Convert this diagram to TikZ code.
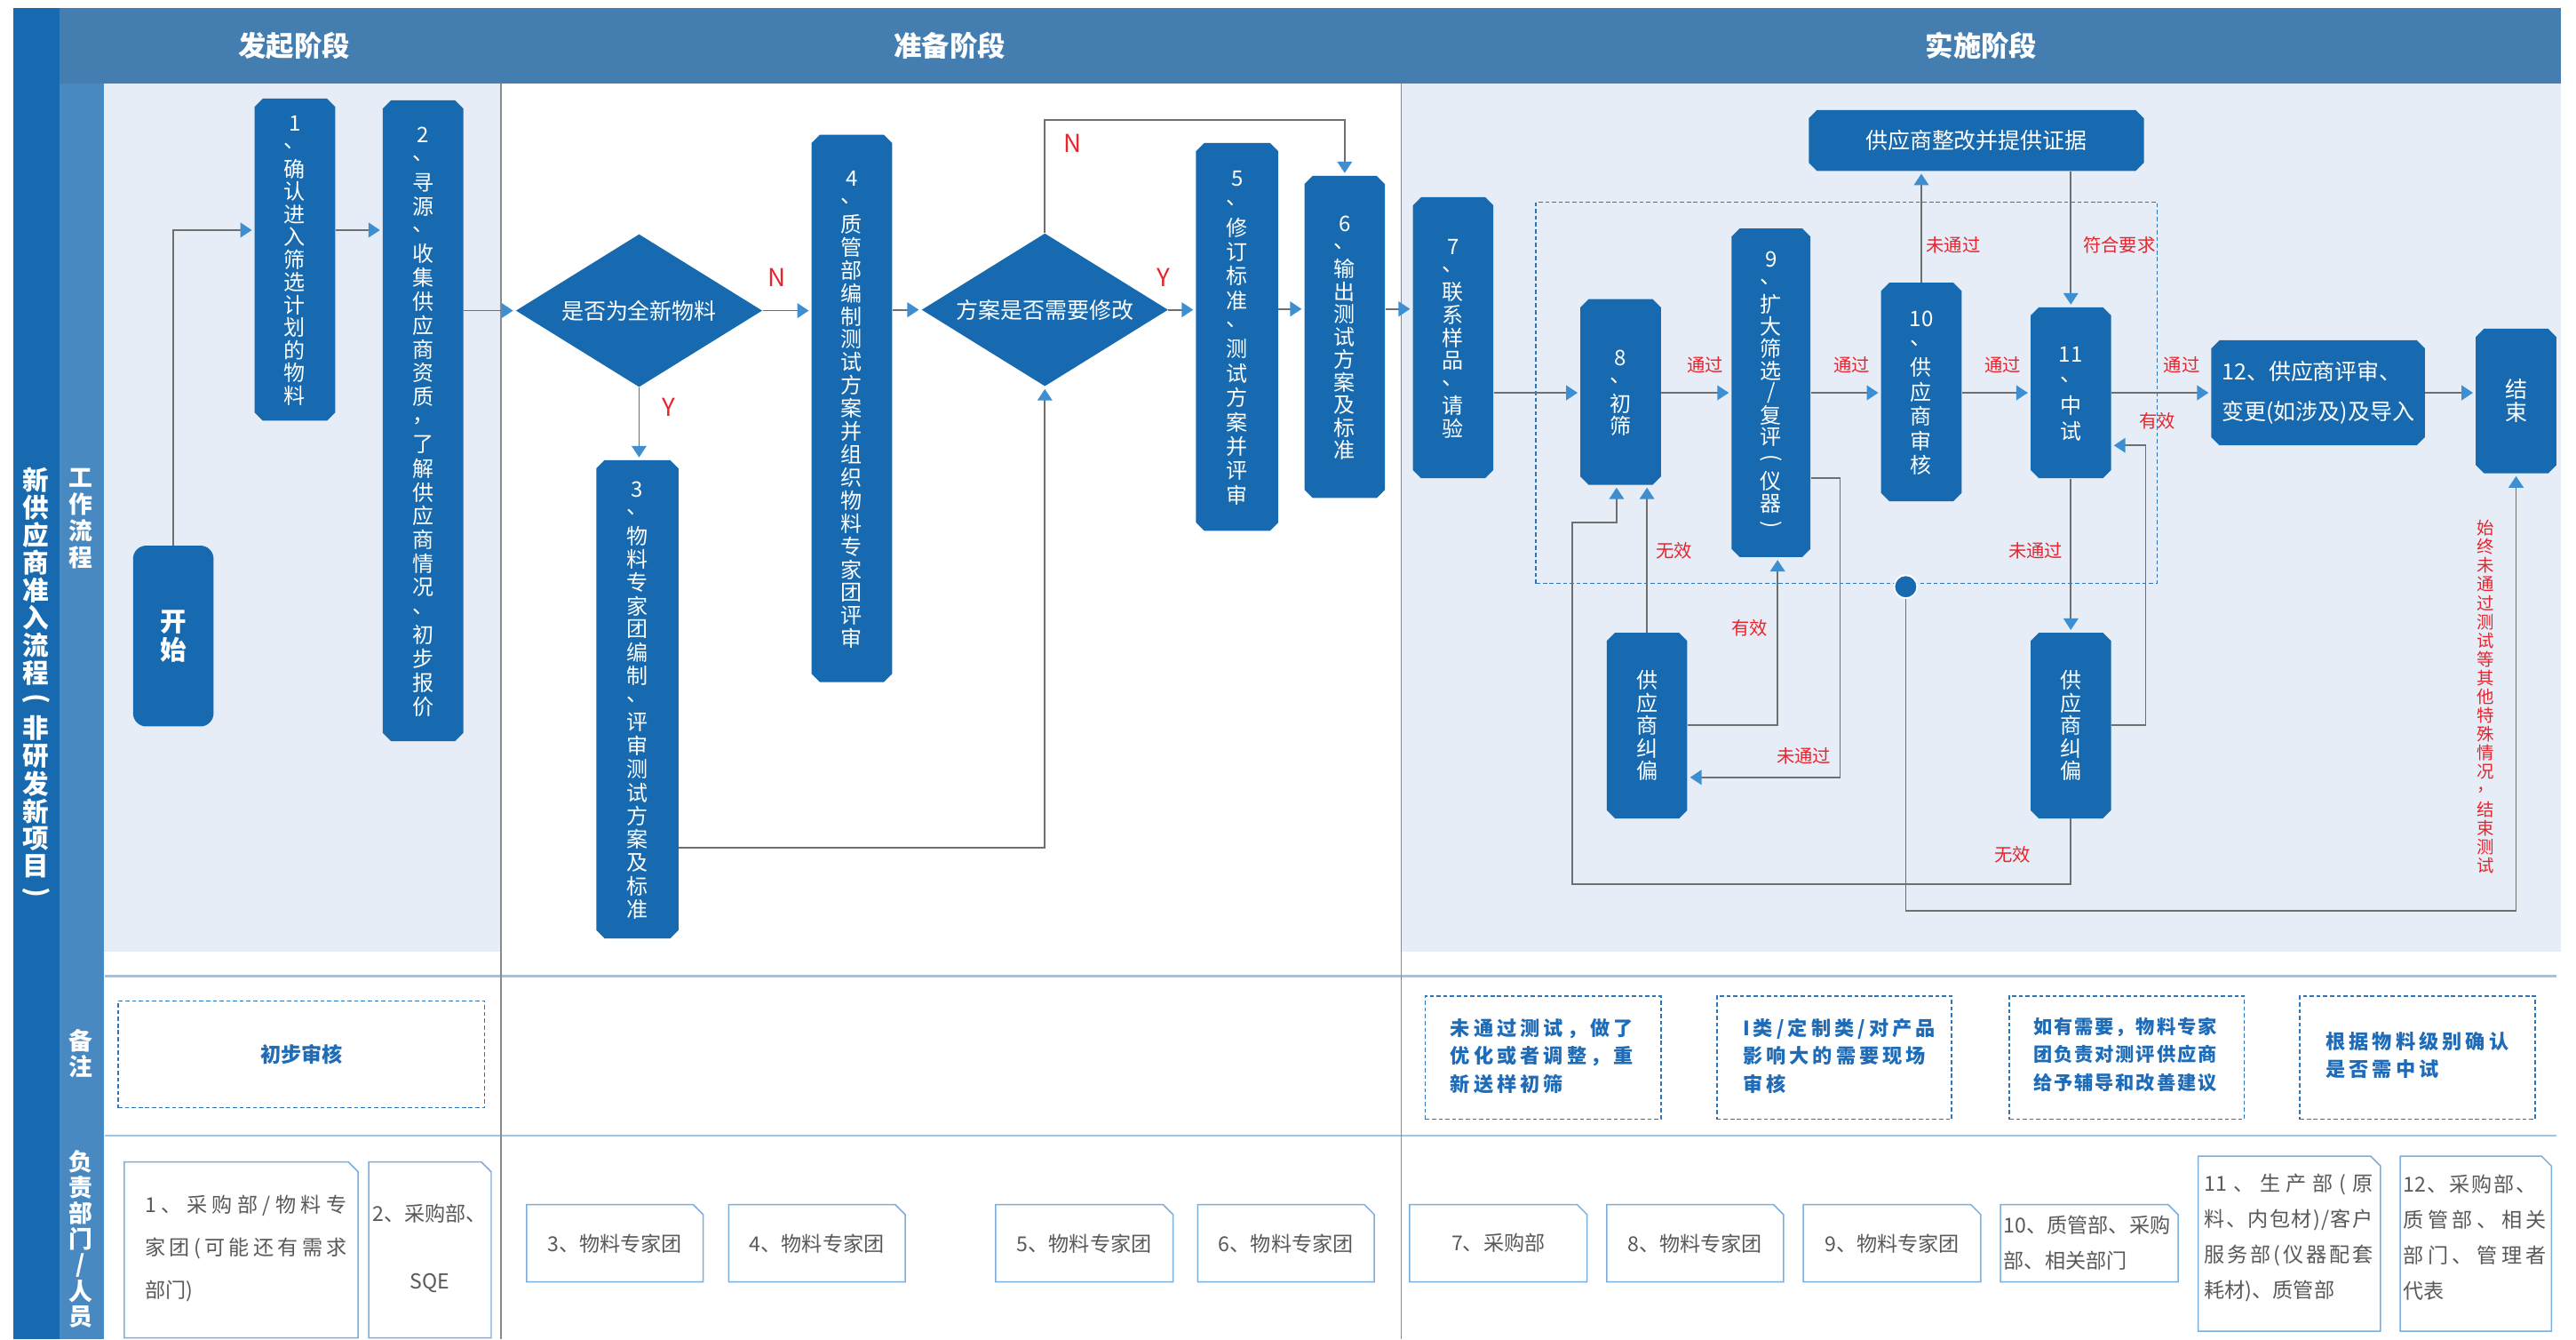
\documentclass[tikz,border=0pt]{standalone}
\usepackage{fontspec}
\usepackage{graphicx}
\setmainfont{Noto Sans CJK SC}
\usetikzlibrary{arrows.meta,shapes.geometric,fit}
\definecolor{nblue}{HTML}{176AAF}
\definecolor{hdr}{HTML}{447EB0}
\definecolor{lcol}{HTML}{4889C2}
\definecolor{lbg}{HTML}{E6EDF6}
\definecolor{tipb}{HTML}{3D8FD1}
\definecolor{lgray}{HTML}{6F6F6F}
\definecolor{dgray}{HTML}{8A8A8A}
\definecolor{lred}{HTML}{E8252E}
\definecolor{rowline}{HTML}{9DC3E6}
\definecolor{dblue}{HTML}{2E75B6}
\definecolor{tblue}{HTML}{1E6BB8}
\definecolor{rgray}{HTML}{595959}
\definecolor{rborder}{HTML}{7AAEDD}
\newcommand\vpl{\rotatebox[origin=c]{-90}{(}}
\newcommand\vpr{\rotatebox[origin=c]{-90}{)}}
\makeatletter
\newcommand\vstk[2][14.2pt]{\vbox{\offinterlineskip\@tfor\vs@c:=#2\do{\vbox to #1{\vss\hbox to 1.6em{\hss\vs@c\hss}\vss}}}}
\newcommand\sprd[2]{\hbox to #1{\@tfor\sp@c:=#2\do{\sp@c\hfil}\unskip}}
\newcommand\lsp[2]{\hbox{\@tfor\lp@c:=#2\do{\lp@c\kern#1}\unkern}}
\makeatother
\newcommand\cham[5]{\fill[nblue] (#1+#5,#2) -- (#3-#5,#2) -- (#3,#2+#5) -- (#3,#4-#5) -- (#3-#5,#4) -- (#1+#5,#4) -- (#1,#4-#5) -- (#1,#2+#5) -- cycle;}
\newcommand\proc[7][\fontsize{13}{14}\selectfont]{\cham{#3}{#4}{#5}{#6}{5}\node[fit={(#3,#4) (#5,#6)},inner sep=0pt] (#2) {};\node[text=white,inner sep=0pt,font=#1,align=left] (#2t) at (#2.center) {#7};}
\newcommand\rbox[5]{\fill[white] (#2,#3) -- (#4-6,#3) -- (#4,#3+6) -- (#4,#5) -- (#2,#5) -- cycle;\draw[rborder,line width=0.8pt] (#2,#3) -- (#4-6,#3) -- (#4,#3+6) -- (#4,#5) -- (#2,#5) -- cycle;\node[fit={(#2,#3) (#4,#5)},inner sep=0pt] (#1) {};}
\tikzset{
  arr/.style={draw=lgray,line width=1pt,-{Triangle[width=9pt,length=7pt,color=tipb]},shorten >=1.5pt},
  lab/.style={text=lred,font=\fontsize{11}{12}\selectfont,inner sep=0pt},
  yn/.style={text=lred,font=\fontsize{15}{15}\selectfont,inner sep=0pt},
  note/.style={draw=dblue,line width=0.9pt,dash pattern=on 2.5pt off 1.6pt,inner sep=0pt},
  ntxt/.style={text=tblue,font=\fontsize{12}{12}\selectfont\bfseries,inner sep=0pt},
  rtxt/.style={text=rgray,font=\fontsize{12.5}{12.5}\selectfont,inner sep=0pt},
  dia/.style={diamond,aspect=1.6,fill=nblue,inner sep=0pt,minimum width=150pt,minimum height=93pt,text=white,font=\fontsize{13.5}{14}\selectfont},
  side/.style={text=white,font=\fontsize{14.5}{15}\selectfont\bfseries,inner sep=0pt}
}
\begin{document}
\begin{tikzpicture}[x=1pt,y=-1pt]
\useasboundingbox (0,0) rectangle (1568,815);
% backgrounds
\fill[nblue] (8,5) rectangle (36,815);
\fill[hdr] (36,5) rectangle (1559,51);
\fill[lcol] (36,51) rectangle (63,815);
\fill[lbg] (63,51) rectangle (305,579);
\fill[lbg] (853,51) rectangle (1559,579);
\draw[rowline,line width=1.3pt] (64,594) -- (1556,594);
\draw[rowline,line width=1.3pt] (64,691) -- (1556,691);
\draw[dgray,line width=0.8pt] (305,51) -- (305,815);
\draw[dgray,line width=0.8pt] (853,51) -- (853,815);
% headers
\node[text=white,font=\fontsize{17}{18}\selectfont\bfseries] (h1) at (179,28) {发起阶段};
\node[text=white,font=\fontsize{17}{18}\selectfont\bfseries] (h2) at (578,28) {准备阶段};
\node[text=white,font=\fontsize{17}{18}\selectfont\bfseries] (h3) at (1206,28) {实施阶段};
\node[text=white,font=\fontsize{16}{16}\selectfont\bfseries,inner sep=0pt] (t0) at (22,418) {\vstk[16.8pt]{新供应商准入流程\vpl 非研发新项目\vpr}};
\node[side] (t1) at (49,315) {\vstk[16pt]{工作流程}};
\node[side] (t2) at (49,641) {\vstk[16pt]{备注}};
\node[side] (t3) at (49,754) {\vstk[15.8pt]{负责部门/人员}};
% group box
\node[note,fit={(935,123) (1313,355)}] (grp) {};
% process nodes
\fill[nblue,rounded corners=8pt] (81,332) rectangle (130,442);
\node[fit={(81,332) (130,442)},inner sep=0pt] (st) {};
\node[text=white,font=\fontsize{16}{16}\selectfont\bfseries,inner sep=0pt] (stt) at (st.center) {\vstk[16.6pt]{开始}};
\proc{n1}{155}{60}{204}{256}{\vstk[13.8pt]{1、确认进入筛选计划的物料}}
\proc{n2}{233}{61}{282}{451}{\vstk[14.5pt]{2、寻源、收集供应商资质，了解供应商情况、初步报价}}
\proc{n3}{363}{280}{413}{571}{\vstk{3、物料专家团编制、评审测试方案及标准}}
\proc{n4}{494}{82}{543}{415}{\vstk[14pt]{4、质管部编制测试方案并组织物料专家团评审}}
\proc{n5}{728}{87}{778}{323}{\vstk[14.8pt]{5、修订标准、测试方案并评审}}
\proc{n6}{794}{107}{843}{303}{\vstk[13.8pt]{6、输出测试方案及标准}}
\proc{n7}{860}{120}{909}{291}{\vstk[13.8pt]{7、联系样品、请验}}
\proc{n8}{962}{182}{1011}{295}{\vstk[13.8pt]{8、初筛}}
\proc{n9}{1054}{139}{1102}{339}{\vstk[13.5pt]{9、扩大筛选/复评\vpl 仪器\vpr}}
\proc{n10}{1145}{172}{1194}{305}{\vstk[14.8pt]{{10}、供应商审核}}
\proc{n11}{1236}{187}{1285}{291}{\vstk[15.5pt]{{11}、中试}}
\proc[\fontsize{13.5}{14}\selectfont]{fix}{1101}{67}{1305}{104}{供应商整改并提供证据}
\proc[\fontsize{13.5}{24}\selectfont]{n12}{1346}{207}{1476}{271}{12、供应商评审、\\变更(如涉及)及导入}
\proc[\fontsize{13.5}{14}\selectfont]{fin}{1507}{200}{1556}{288}{\vstk[14pt]{结束}}
\proc{lc}{978}{385}{1027}{498}{\vstk[13.8pt]{供应商纠偏}}
\proc{rc}{1236}{385}{1285}{498}{\vstk[13.8pt]{供应商纠偏}}
\node[dia] (d1) at (389,189) {是否为全新物料};
\node[dia] (d2) at (636,188.5) {方案是否需要修改};
\node[circle,fill=nblue,draw=white,line width=1pt,minimum size=14pt,inner sep=0pt] (dot) at (1160,357) {};
% connectors
\draw[arr] (st.north) |- (n1.west |- 0,140);
\draw[arr] (n1.east |- 0,140) -- (n2.west |- 0,140);
\draw[arr] (n2.east |- d1.west) -- (d1.west);
\draw[arr] (d1.east) -- (n4.west |- d1.east);
\draw[arr] (d1.south) -- (n3.north -| d1.south);
\draw[arr] (n4.east |- d2.west) -- (d2.west);
\draw[arr] (n3.east |- 0,516) -| (d2.south);
\draw[arr] (d2.north) |- (n6.north |- 0,73) -- (n6.north);
\draw[arr] (d2.east) -- (n5.west |- d2.east);
\draw[arr] (n5.east |- 0,188) -- (n6.west |- 0,188);
\draw[arr] (n6.east |- 0,188) -- (n7.west |- 0,188);
\draw[arr] (n7.east |- 0,239) -- (n8.west |- 0,239);
\draw[arr] (n8.east |- 0,239) -- (n9.west |- 0,239);
\draw[arr] (n9.east |- 0,239) -- (n10.west |- 0,239);
\draw[arr] (n10.east |- 0,239) -- (n11.west |- 0,239);
\draw[arr] (n11.east |- 0,239) -- (n12.west |- 0,239);
\draw[arr] (n12.east |- 0,239) -- (fin.west |- 0,239);
\draw[arr] (n10.north) -- (fix.south -| n10.north);
\draw[arr] (fix.south -| n11.north) -- (n11.north);
\draw[arr] (n11.south) -- (rc.north);
\draw[arr] (rc.east |- 0,441) -- (1306,441) |- (n11.east |- 0,271);
\draw[arr] (rc.south) |- (957,538) |- (984,318) -- (n8.south -| 984,0);
\draw[arr] (lc.north) -- (n8.south -| lc.north);
\draw[arr] (lc.east |- 0,441) -| ([xshift=4pt]n9.south);
\draw[arr] (n9.east |- 0,291) -- (1120,291) |- (lc.east |- 0,473);
\draw[arr] (dot.south) |- (fin.south |- 0,554) -- (fin.south);
% labels
\node[yn] (lN1) at (473,169) {N};
\node[yn] (lY1) at (407,248) {Y};
\node[yn] (lN2) at (653,87) {N};
\node[yn] (lY2) at (708,169) {Y};
\node[lab] (p1) at (1038,222) {通过};
\node[lab] (p2) at (1127,222) {通过};
\node[lab] (p3) at (1219,222) {通过};
\node[lab] (p4) at (1328,222) {通过};
\node[lab] (q1) at (1189,149) {未通过};
\node[lab] (q2) at (1290,149) {符合要求};
\node[lab] (q3) at (1313,256) {有效};
\node[lab] (q4) at (1019,335) {无效};
\node[lab] (q5) at (1239,335) {未通过};
\node[lab] (q6) at (1065,382) {有效};
\node[lab] (q7) at (1098,460) {未通过};
\node[lab] (q8) at (1225,520) {无效};
\node[lab,font=\fontsize{10.5}{11}\selectfont] (q9) at (1513,424) {\vstk[11.4pt]{始终未通过测试等其他特殊情况，结束测试}};
% notes row
\node[note,fit={(72,609) (295,674)}] (m1) {};
\node[ntxt,font=\fontsize{12.5}{12.5}\selectfont\bfseries] (m1t) at (m1.center) {初步审核};
\node[note,fit={(867.5,606) (1011,681)}] (m2) {};
\node[ntxt,anchor=west] (m2t) at (882.7,642.5) {\vbox{\baselineskip=17.1pt\lsp{2.2pt}{未通过测试，做了}\lsp{2.2pt}{优化或者调整，重}\lsp{2.2pt}{新送样初筛}}};
\node[note,fit={(1045,606) (1188,681)}] (m3) {};
\node[ntxt,anchor=west] (m3t) at (1060.7,642.5) {\vbox{\baselineskip=17.1pt\lsp{2.2pt}{I类/定制类/对产品}\lsp{2.2pt}{影响大的需要现场}\lsp{2.2pt}{审核}}};
\node[note,fit={(1223,606) (1366,681)}] (m4) {};
\node[ntxt,anchor=west,font=\fontsize{11.5}{12}\selectfont\bfseries] (m4t) at (1237.6,641.6) {\vbox{\baselineskip=17.1pt\lsp{1pt}{如有需要，物料专家}\lsp{1pt}{团负责对测评供应商}\lsp{1pt}{给予辅导和改善建议}}};
\node[note,fit={(1400,606) (1543,681)}] (m5) {};
\node[ntxt,anchor=west] (m5t) at (1415.5,642) {\vbox{\baselineskip=17.1pt\lsp{2.2pt}{根据物料级别确认}\lsp{2.2pt}{是否需中试}}};
% responsibility row
\rbox{r1}{75.6}{707}{218}{814}
\rbox{r2}{224.5}{707}{299}{814}
\rbox{r3}{320.5}{733}{428}{780}
\rbox{r4}{443.5}{733}{551}{780}
\rbox{r5}{606}{733}{714}{780}
\rbox{r6}{729}{733}{836.5}{780}
\rbox{r7}{858}{733}{966}{780}
\rbox{r8}{978}{733}{1085.6}{780}
\rbox{r9}{1097.6}{733}{1205.7}{780}
\rbox{r10}{1217.7}{733}{1325.8}{780}
\rbox{r11}{1338}{703.5}{1449}{810}
\rbox{r12}{1461}{703.5}{1553}{810}
\node[rtxt,anchor=west] (r1t) at (88,759.7) {\vbox{\baselineskip=26pt\sprd{123pt}{1、采购部/物料专}\sprd{123pt}{家团(可能还有需求}\hbox{部门)}}};
\node[rtxt] (r2t) at (261.5,759.5) {\vbox{\baselineskip=41pt\hbox to 70pt{\hss 2、采购部、\hss}\hbox to 70pt{\hss SQE\hss}}};
\node[rtxt] (r3t) at (r3.center) {3、物料专家团};
\node[rtxt] (r4t) at (r4.center) {4、物料专家团};
\node[rtxt] (r5t) at (r5.center) {5、物料专家团};
\node[rtxt] (r6t) at (r6.center) {6、物料专家团};
\node[rtxt] (r7t) at (r7.center) {7、采购部};
\node[rtxt] (r8t) at (r8.center) {8、物料专家团};
\node[rtxt] (r9t) at (r9.center) {9、物料专家团};
\node[rtxt,anchor=west] (r10t) at (1219.5,756) {\vbox{\baselineskip=21.7pt\hbox{10、质管部、采购}\hbox{部、相关部门}}};
\node[rtxt,anchor=west] (r11t) at (1341.6,753.2) {\vbox{\baselineskip=21.6pt\sprd{102.6pt}{{11}、生产部(原}\sprd{102.6pt}{料、内包材)/客户}\sprd{102.6pt}{服务部(仪器配套}\hbox{耗材)、质管部}}};
\node[rtxt,anchor=west] (r12t) at (1462.6,753.2) {\vbox{\baselineskip=21.6pt\sprd{81pt}{{12}、采购部、}\sprd{87.4pt}{质管部、相关}\sprd{87.4pt}{部门、管理者}\hbox{代表}}};
\end{tikzpicture}
\end{document}
